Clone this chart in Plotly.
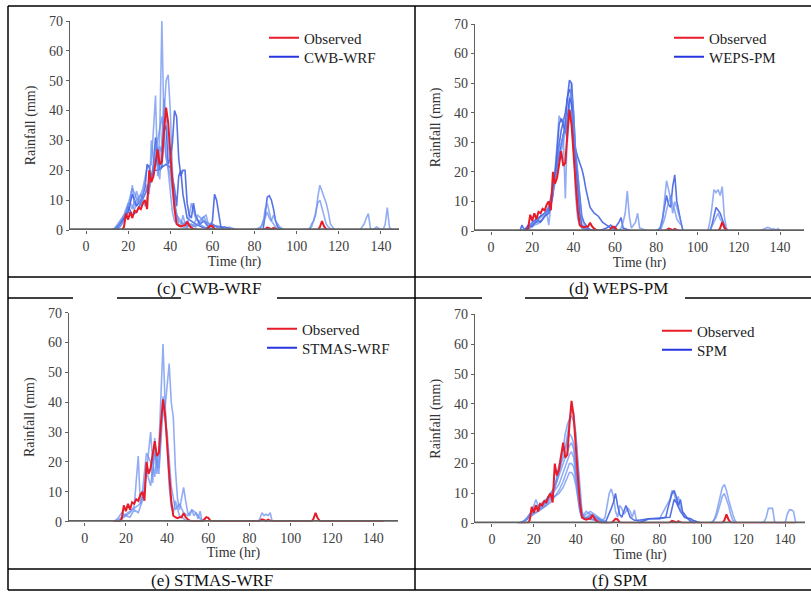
import plotly.graph_objects as go

W, H = 811, 592

# ---------------- data (hour, rainfall mm) ----------------
OBS_HOURS = [14, 17, 18, 19, 20, 21, 22, 23, 24, 25, 26, 27, 28, 29, 30, 31, 32, 33, 34, 35,
             36, 37, 38, 39, 40, 41, 42, 43, 44, 45, 46, 47, 48, 49, 50, 51, 52, 54, 57, 58,
             59, 60, 61, 62, 84, 85, 86, 87, 88, 89, 90, 91, 110, 111, 112, 113, 114, 115, 145]
OBS_RAIN = [0, 0, 1, 5.5, 3.5, 6, 4, 6.5, 6, 7.5, 7, 9, 10, 7, 20, 16, 18, 22, 27, 22,
            23, 33, 41, 36, 24, 16, 7, 2, 1.5, 1.2, 1.5, 1.5, 2.8, 1.5, 0.8, 0.3, 0.2, 0, 0, 0.8,
            1.5, 1.3, 0.3, 0, 0, 0.3, 0.8, 0.6, 0.2, 0.7, 0.3, 0, 0, 1, 3, 1.2, 0.3, 0, 0]

CWB_MEMBERS = [
    [(13, 0), (16, 2), (18, 4), (20, 8), (22, 5), (24, 6), (26, 9), (28, 12), (30, 16), (32, 20),
     (34, 20), (36, 21), (38, 22), (40, 21), (42, 14), (43, 8), (44, 18), (45, 20), (46, 12), (48, 4),
     (50, 3), (52, 2), (55, 1), (58, 0.5), (60, 3), (61, 12), (62, 10), (63, 5), (64, 1), (66, 0), (84, 0),
     (85, 5), (86, 11), (87, 11.5), (88, 10), (89, 7), (90, 3), (91, 1), (92, 0.5), (94, 0)],
    [(14, 0), (16, 1), (18, 3), (20, 6), (21, 10), (22, 15), (23, 8), (24, 10), (26, 12), (28, 8),
     (30, 14), (32, 20), (33, 28), (34, 22), (35, 32), (36, 70), (37, 35), (38, 25), (39, 20), (40, 12),
     (41, 6), (42, 3), (44, 1.5), (46, 1), (48, 0.5), (50, 9), (51, 6), (52, 4), (54, 2), (56, 1), (60, 0)],
    [(15, 0), (17, 2), (19, 5), (21, 9), (23, 7), (25, 10), (27, 14), (29, 21), (31, 22), (32, 32),
     (33, 45), (34, 18), (35, 28), (36, 26), (37, 38), (38, 50), (39, 52), (40, 40), (41, 20), (42, 10),
     (43, 4), (44, 2), (45, 1.5), (46, 5), (47, 2), (48, 1), (50, 2), (52, 1), (55, 4), (57, 5), (58, 2),
     (60, 1), (62, 1.5), (64, 1), (66, 0.5), (68, 1), (70, 0.5), (72, 0)],
    [(14, 0), (16, 2), (18, 4), (20, 6), (22, 12), (24, 8), (26, 10), (28, 14), (29, 22), (30, 21),
     (31, 17), (32, 22), (33, 31), (34, 25), (35, 20), (36, 21), (37, 33), (38, 35), (39, 22), (40, 24),
     (41, 29), (42, 40), (43, 38), (44, 24), (45, 18), (46, 20), (47, 20), (48, 9), (49, 5), (50, 4),
     (51, 9), (52, 5), (54, 2), (56, 3), (58, 1), (60, 2), (62, 1), (66, 1), (70, 0)],
    [(13, 0), (16, 3), (19, 6), (22, 14), (25, 9), (27, 11), (30, 14), (33, 25), (35, 17), (37, 44),
     (39, 30), (41, 15), (43, 5), (45, 3), (47, 1.5), (49, 2), (51, 1.5), (53, 5), (56, 3), (59, 2),
     (62, 1), (65, 0)],
    [(12, 0), (15, 1), (18, 5), (20, 9), (22, 7), (24, 13), (26, 8), (28, 16), (30, 12), (31, 30),
     (32, 24), (34, 30), (36, 38), (37, 30), (38, 24), (40, 18), (42, 8), (44, 3), (46, 2), (48, 3),
     (50, 1), (54, 2), (56, 4.5), (58, 1), (62, 0)],
    [(80, 0), (83, 1), (84, 3), (85, 4), (86, 6), (87, 4), (88, 3), (89, 5), (90, 3), (91, 2),
     (92, 1), (94, 0), (106, 0), (107, 2), (108, 3), (109, 6), (110, 9), (111, 10), (112, 7), (113, 4),
     (114, 2), (115, 1), (116, 0.5), (117, 0), (130, 0), (132, 2), (133, 4), (134, 5.5), (135, 0.5),
     (136, 0), (137, 0.5), (138, 1), (139, 0.5), (140, 0), (141, 0), (142, 2), (143, 7.5), (144, 1),
     (145, 0)],
    [(105, 0), (107, 1), (108, 3), (109, 5), (110, 11), (111, 15), (112, 13), (113, 11), (114, 9),
     (115, 6), (116, 2), (118, 0)],
    [(82, 0), (84, 2), (85, 7), (86, 9), (87, 6), (88, 3), (89, 2), (90, 1), (92, 0.5), (94, 0)],
]
CWB_DARK = [True, False, False, True, False, False, False, False, False]

WEPS_MEMBERS = [
    [(14, 0), (15, 2), (16, 0.5), (18, 1), (20, 3), (22, 4), (24, 5), (26, 6), (28, 7), (30, 14),
     (32, 25), (34, 34), (36, 40), (37, 45), (38, 48), (39, 46), (40, 30), (41, 27), (42, 25), (43, 23),
     (44, 21), (45, 18), (46, 14), (48, 8), (50, 6), (52, 5), (54, 3), (56, 2), (58, 1), (60, 1), (62, 3),
     (63, 4.5), (64, 1), (66, 0.5), (68, 0)],
    [(15, 0), (17, 1), (19, 2), (21, 3), (23, 3), (25, 4), (27, 6), (29, 8), (31, 20), (32, 30),
     (33, 39), (34, 37), (35, 38), (36, 35), (37, 30), (38, 42), (39, 50), (40, 30), (41, 12), (42, 4),
     (43, 2), (44, 1), (46, 0.5), (48, 0.2), (50, 0)],
    [(16, 0), (18, 1), (20, 2), (22, 3), (24, 5), (26, 6), (28, 8), (30, 15), (32, 22), (34, 30),
     (35, 33), (36, 36), (37, 45), (38, 51), (39, 50), (40, 40), (41, 26), (42, 20), (43, 12), (44, 5),
     (45, 3), (46, 2), (47, 1), (48, 0.5), (50, 0.3), (52, 0), (54, 0.5), (56, 1), (58, 2), (60, 0.5),
     (62, 0)],
    [(17, 0), (19, 1), (21, 2), (23, 2.5), (25, 4), (27, 6), (28, 2), (29, 9), (30, 13), (31, 18),
     (32, 24), (33, 30), (34, 29), (35, 33), (36, 11), (37, 35), (38, 44), (39, 47), (40, 40), (41, 22),
     (42, 10), (43, 3), (44, 1), (46, 0.3), (48, 0)],
    [(16, 0), (18, 2), (20, 1.5), (22, 4), (24, 3), (26, 5), (28, 6), (30, 12), (32, 27), (33, 36),
     (34, 38), (35, 36), (36, 33), (37, 38), (38, 45), (39, 43), (40, 33), (41, 24), (42, 15), (43, 6),
     (44, 2), (46, 1), (48, 0)],
    [(17, 0), (19, 1.5), (21, 3), (23, 4), (25, 5), (27, 7), (29, 10), (31, 16), (33, 24), (35, 30),
     (36, 34), (37, 38), (38, 40), (39, 41), (40, 35), (41, 28), (42, 20), (43, 11), (44, 4), (46, 1),
     (48, 0)],
    [(62, 0), (63, 1), (64, 3), (65, 6), (66, 13.5), (67, 5), (68, 1), (70, 3), (71, 6), (72, 1),
     (74, 0.5), (76, 0)],
    [(80, 0), (82, 1), (83, 4), (84, 8), (85, 12), (86, 9), (87, 8), (88, 15), (89, 19), (90, 10),
     (91, 6), (92, 3), (93, 0)],
    [(81, 0), (83, 3), (84, 10), (85, 17), (86, 14), (87, 11), (88, 6), (89, 10), (90, 8), (91, 5),
     (92, 3)],
    [(82, 0), (84, 4), (85, 7), (86, 10), (87, 12), (88, 9), (89, 7), (90, 4), (92, 2)],
    [(105, 0), (106, 3), (107, 8), (108, 14), (109, 13), (110, 14), (111, 12), (112, 15), (113, 5),
     (114, 1), (115, 0)],
    [(106, 0), (107, 2), (108, 5), (109, 8), (110, 7), (111, 6), (112, 4), (113, 2), (114, 0)],
    [(130, 0), (132, 0.5), (133, 1), (134, 1.2), (135, 1), (136, 0.5), (137, 0.8), (138, 0.3),
     (139, 0.8), (140, 0)],
    [(106, 0), (108, 3), (109, 5), (110, 6), (111, 4), (112, 3), (113, 1), (114, 0)],
]
WEPS_DARK = [True, False, True, False, True, False, False, True, False, False, False, True, False,
             False]

STMAS_MEMBERS = [
    [(14, 0), (16, 1), (18, 3), (20, 2), (22, 3), (24, 5), (26, 22), (27, 6), (28, 10), (30, 23),
     (32, 20), (33, 13), (34, 28), (35, 16), (36, 25), (37, 45), (38, 59.5), (39, 40), (40, 25), (41, 12),
     (42, 5), (43, 3), (44, 7), (45, 4), (46, 2), (48, 1), (50, 0)],
    [(15, 0), (17, 1), (19, 2), (21, 3), (23, 4), (25, 5), (27, 6), (29, 10), (30, 16), (31, 24),
     (32, 30), (33, 20), (34, 15), (35, 22), (36, 18), (37, 30), (38, 42), (39, 38), (40, 45), (41, 53),
     (42, 40), (43, 35), (44, 18), (45, 8), (46, 4), (47, 8), (48, 11.5), (49, 7), (50, 3), (51, 2),
     (52, 4), (53, 2), (54, 3), (55, 1), (56, 3.5), (57, 0)],
    [(16, 0), (18, 1), (20, 2), (22, 1.5), (24, 4), (26, 3), (28, 7), (30, 17), (32, 12), (34, 23),
     (36, 16), (38, 38), (40, 30), (42, 12), (44, 4), (46, 6), (48, 3), (50, 2), (52, 4), (54, 3), (56, 1),
     (58, 0)],
    [(84, 0), (85, 1), (86, 3), (87, 2), (88, 2.5), (89, 2), (90, 3), (91, 0)],
]
STMAS_DARK = [False, False, False, False]

SPM_MEMBERS = [
    [(12, 0), (15, 0.5), (17, 1.5), (19, 3), (21, 5), (23, 5), (25, 6), (27, 8), (29, 10), (31, 14),
     (33, 20), (34, 25), (35, 30), (36, 33), (37, 35), (38, 36), (39, 34), (40, 30), (41, 22), (42, 12),
     (43, 4), (44, 2), (45, 1.5), (46, 2), (48, 3), (50, 1.5), (52, 1), (54, 0)],
    [(13, 0), (15, 0.5), (17, 2), (19, 4), (21, 6), (23, 5), (25, 7), (27, 9), (29, 11), (31, 15),
     (33, 20), (35, 24), (36, 28), (37, 30), (38, 29), (39, 27), (40, 20), (41, 12), (42, 5), (43, 2),
     (45, 3), (47, 4), (49, 3), (51, 2), (53, 1), (55, 0)],
    [(13, 0), (16, 1), (18, 2), (20, 4), (22, 6), (24, 6), (26, 7), (28, 9), (30, 11), (32, 13),
     (34, 17), (36, 21), (37, 23), (38, 24), (39, 22), (40, 17), (41, 10), (42, 5), (43, 2), (45, 2),
     (47, 3), (49, 2), (52, 1), (55, 0)],
    [(14, 0), (16, 1), (18, 2.5), (20, 3.5), (22, 4), (24, 5), (26, 6), (28, 8), (30, 9), (32, 11),
     (34, 14), (36, 18), (37, 20), (38, 20), (39, 19), (40, 15), (41, 9), (42, 4), (43, 2), (45, 1.5),
     (48, 2.5), (51, 1.5), (54, 0.5), (56, 0)],
    [(14, 0), (16, 1), (18, 2), (20, 3), (22, 4), (24, 5), (26, 6), (28, 7), (30, 9), (32, 10),
     (34, 12), (36, 15), (37, 17), (38, 17), (39, 16), (40, 13), (41, 8), (42, 4), (43, 2), (46, 1.5),
     (50, 1), (55, 0)],
    [(12, 0), (15, 0.5), (17, 2), (19, 4), (21, 8), (22, 6), (24, 6), (26, 8), (28, 10), (30, 12),
     (31, 16), (32, 19), (33, 23), (34, 26), (35, 25), (36, 30), (37, 34), (38, 38), (39, 37), (40, 30),
     (41, 20), (42, 9), (43, 3), (44, 1.5), (46, 2), (48, 1.5), (50, 1), (53, 0)],
    [(13, 0), (16, 1), (18, 3), (20, 5), (22, 5), (24, 7), (26, 8), (28, 10), (30, 12), (32, 16),
     (34, 20), (36, 24), (37, 26), (38, 27), (39, 25), (40, 19), (41, 11), (42, 5), (43, 2), (45, 4),
     (47, 3), (50, 2), (53, 0)],
    [(52, 0), (54, 2), (55, 6), (56, 10), (57, 11.5), (58, 9), (59, 4), (60, 2), (61, 6), (62, 5),
     (63, 3), (64, 4), (65, 5), (66, 4), (67, 2), (68, 4.5), (69, 1), (70, 0.5), (72, 1), (75, 1.5),
     (80, 1.5), (85, 8), (86, 11), (87, 10), (88, 7), (89, 9), (90, 5), (92, 2), (95, 1), (100, 0)],
    [(54, 0), (56, 3), (57, 5), (58, 7), (59, 10), (60, 6), (61, 3), (62, 2), (63, 4), (64, 6),
     (66, 2), (68, 1), (70, 1), (75, 1.5), (80, 1.5), (83, 2), (84, 5), (85, 8), (86, 10), (87, 11),
     (88, 9), (89, 6), (90, 8), (91, 4), (93, 2), (95, 0.5), (97, 0)],
    [(104, 0), (106, 1), (107, 3), (108, 6), (109, 9), (110, 12), (111, 13), (112, 11), (113, 8),
     (114, 5), (115, 3), (116, 1), (117, 0)],
    [(105, 0), (107, 2), (108, 4), (109, 7), (110, 9), (111, 10), (112, 8), (113, 6), (114, 3),
     (115, 1), (116, 0)],
    [(128, 0), (130, 0.5), (131, 2), (132, 5), (133, 5), (134, 5), (135, 0.5), (136, 0), (140, 0),
     (141, 3), (142, 4.5), (143, 4.5), (144, 4), (145, 0.5)],
    [(70, 0), (75, 1.5), (80, 1.8), (85, 2), (86, 5), (87, 8), (88, 7), (90, 4), (92, 2), (95, 1.5),
     (96, 1), (98, 0.5), (100, 0)],
]
SPM_DARK = [False, False, False, False, False, False, False, False, True, False, False, False, True]

MODEL_NAMES = ["CWB-WRF", "WEPS-PM", "STMAS-WRF", "SPM"]
CAPTIONS = ["(c) CWB-WRF", "(d) WEPS-PM", "(e) STMAS-WRF", "(f) SPM"]
X_TICKS = [0, 20, 40, 60, 80, 100, 120, 140]
Y_TICKS = [0, 10, 20, 30, 40, 50, 60, 70]

# ---------------- layout geometry (pixels) ----------------
GEOM = [
    dict(x0=70, x1=399, yb=230, yt=21, xr=[-7.6, 148.55], leg=(264, 38, 57), cap=(209, 288)),
    dict(x0=475, x1=804, yb=231, yt=24, xr=[-7.75, 151.6], leg=(669, 38, 57), cap=(618, 288)),
    dict(x0=69, x1=398, yb=521.7, yt=312.7, xr=[-7.6, 152.0], leg=(262, 329, 348), cap=(212, 580)),
    dict(x0=475, x1=805, yb=523.3, yt=314.3, xr=[-8.1, 149.5], leg=(657, 331, 350), cap=(619, 580)),
]

MEMBER_SETS = [(CWB_MEMBERS, CWB_DARK), (WEPS_MEMBERS, WEPS_DARK),
               (STMAS_MEMBERS, STMAS_DARK), (SPM_MEMBERS, SPM_DARK)]

SERIF = "Times New Roman, Liberation Serif, DejaVu Serif, serif"
DARK = "rgba(72,102,226,0.92)"
LIGHT = "rgba(104,142,240,0.72)"
OBS_COLOR = "rgb(232,28,40)"
LEG_BLUE = "rgb(40,52,222)"
AXIS_GREY = "#606060"


def px(x):
    return x / W


def py(y):
    return 1 - y / H


fig = go.Figure()
layout = dict(
    width=W, height=H, margin=dict(l=0, r=0, t=0, b=0),
    paper_bgcolor="white", plot_bgcolor="rgba(0,0,0,0)",
    font=dict(family=SERIF, color="#333"),
    annotations=[], shapes=[],
)

for i, g in enumerate(GEOM):
    n = "" if i == 0 else str(i + 1)
    xa, ya = "x" + n, "y" + n
    leg_obs = "legend" + n
    leg_mod = "legend" + str(i + 5)
    members, dark = MEMBER_SETS[i]
    for m, d in zip(members, dark):
        fig.add_trace(go.Scatter(
            x=[p[0] for p in m], y=[p[1] for p in m], mode="lines",
            line=dict(color=DARK if d else LIGHT, width=1.6),
            xaxis=xa, yaxis=ya, showlegend=False, hoverinfo="skip"))
    fig.add_trace(go.Scatter(
        x=OBS_HOURS, y=OBS_RAIN, mode="lines", name="Observed",
        line=dict(color=OBS_COLOR, width=2), xaxis=xa, yaxis=ya,
        legend=leg_obs))
    fig.add_trace(go.Scatter(
        x=[None], y=[None], mode="lines", name=MODEL_NAMES[i],
        line=dict(color=LEG_BLUE, width=2), xaxis=xa, yaxis=ya,
        legend=leg_mod))

    axcommon = dict(linecolor=AXIS_GREY, linewidth=1.3, ticks="outside",
                    ticklen=3, tickcolor=AXIS_GREY, showgrid=False, zeroline=False,
                    tickfont=dict(family=SERIF, size=14, color="#404040"), automargin=False)
    layout["xaxis" + n] = dict(
        axcommon, showline=False, domain=[px(g["x0"]), px(g["x1"])], range=g["xr"],
        tickvals=X_TICKS, anchor=ya,
        title=dict(text="Time (hr)", standoff=2, font=dict(family=SERIF, size=14, color="#333")))
    layout["yaxis" + n] = dict(
        axcommon, showline=True, domain=[py(g["yb"]), py(g["yt"])], range=[0, 70],
        tickvals=Y_TICKS, anchor=xa,
        title=dict(text="Rainfall (mm)", standoff=10, font=dict(family=SERIF, size=14, color="#333")))
    # x axis baseline drawn above the traces (like the original figure's axis)
    layout["shapes"].append(dict(type="line", xref=xa + " domain", yref=ya,
                                 x0=0, x1=1, y0=0, y1=0, layer="above",
                                 line=dict(color=AXIS_GREY, width=3.5)))
    for key, yc in ((leg_obs, g["leg"][1]), (leg_mod, g["leg"][2])):
        layout[key] = dict(x=px(g["leg"][0]), y=py(yc), xanchor="left", yanchor="middle",
                           bgcolor="rgba(0,0,0,0)",
                           font=dict(family=SERIF, size=15, color="#222"), itemwidth=30)
    layout["annotations"].append(dict(
        x=px(g["cap"][0]), y=py(g["cap"][1]), xref="paper", yref="paper",
        text=CAPTIONS[i], showarrow=False, xanchor="center", yanchor="middle",
        font=dict(family=SERIF, size=17, color="#111")))


# table rules
def hline(y, x0, x1):
    layout["shapes"].append(dict(type="line", xref="paper", yref="paper",
                                 x0=px(x0), x1=px(x1), y0=py(y), y1=py(y),
                                 line=dict(color="black", width=1.5)))


def vline(x, y0, y1):
    layout["shapes"].append(dict(type="line", xref="paper", yref="paper",
                                 x0=px(x), x1=px(x), y0=py(y0), y1=py(y1),
                                 line=dict(color="black", width=1.5)))


hline(6, 8, 811)
hline(277, 8, 811)
for a, b in [(8, 73), (117, 181), (277, 482), (525, 588), (685, 811)]:
    hline(298, a, b)
hline(569, 8, 811)
hline(590, 8, 811)
vline(8, 6, 590)
vline(415, 6, 590)

fig.update_layout(**layout)
fig.write_html("out.html")
